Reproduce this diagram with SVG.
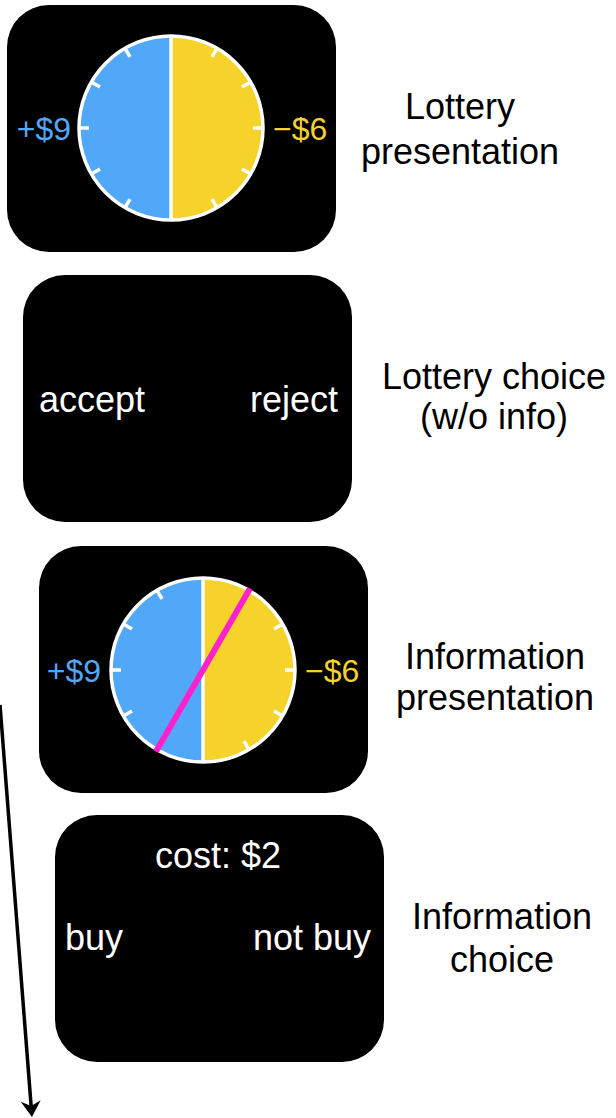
<svg xmlns="http://www.w3.org/2000/svg" width="616" height="1118" viewBox="0 0 616 1118">
<style>
.panel{fill:#000}
.t{font-family:"Liberation Sans",Arial,sans-serif;font-size:36px}
.w{fill:#fff}
.k{fill:#000}
.v{font-family:"Liberation Sans",Arial,sans-serif;font-size:32px}
.blue{fill:#52A8F8}
.yel{fill:#F5D32B}
.tick{stroke:#fff;stroke-width:3.5;stroke-linecap:butt}
.conn{stroke:#000;stroke-width:3.5;fill:none}
</style>
<defs>
<g id="dial">
<path d="M0,-92 A92,92 0 0 0 0,92 Z" fill="#52A8F8"/>
<path d="M0,-92 A92,92 0 0 1 0,92 Z" fill="#F5D32B"/>
<circle r="92" fill="none" stroke="#fff" stroke-width="3.5"/>
<line x1="0" y1="-92" x2="0" y2="92" stroke="#fff" stroke-width="3.5"/>
<g class="tick">
<line x1="46" y1="-79.67" x2="41" y2="-71.01"/>
<line x1="79.67" y1="-46" x2="71.01" y2="-41"/>
<line x1="92" y1="0" x2="82" y2="0"/>
<line x1="79.67" y1="46" x2="71.01" y2="41"/>
<line x1="46" y1="79.67" x2="41" y2="71.01"/>
<line x1="-46" y1="-79.67" x2="-41" y2="-71.01"/>
<line x1="-79.67" y1="-46" x2="-71.01" y2="-41"/>
<line x1="-92" y1="0" x2="-82" y2="0"/>
<line x1="-79.67" y1="46" x2="-71.01" y2="41"/>
<line x1="-46" y1="79.67" x2="-41" y2="71.01"/>
</g>
</g>
<marker id="arrow" markerUnits="userSpaceOnUse" markerWidth="30" markerHeight="30" viewBox="-10 -15 25 30" refX="0" refY="0" orient="auto">
<path d="M10,0 L-6,-10 L-1,0 L-6,10 Z" fill="#000"/>
</marker>
</defs>

<g id="connectors">
<line class="conn" x1="0" y1="705" x2="31.2" y2="1107" marker-end="url(#arrow)"/>
</g>

<g id="lottery-presentation">
<rect class="panel" x="7" y="5" width="329" height="247" rx="42"/>
<use href="#dial" transform="translate(171,128)"/>
<text class="v blue" x="71" y="140" text-anchor="end">+$9</text>
<text class="v yel" x="273" y="140">−$6</text>
</g>

<g id="lottery-choice">
<rect class="panel" x="23" y="275" width="329" height="247" rx="42"/>
<text class="t w" x="39" y="412">accept</text>
<text class="t w" x="338" y="412" text-anchor="end">reject</text>
</g>

<g id="information-presentation">
<rect class="panel" x="39" y="546" width="329" height="247" rx="42"/>
<use href="#dial" transform="translate(203,670)"/>
<line x1="250" y1="588.6" x2="156" y2="751.4" stroke="#FF22CC" stroke-width="6"/>
<text class="v blue" x="101" y="682" text-anchor="end">+$9</text>
<text class="v yel" x="305" y="682">−$6</text>
</g>

<g id="information-choice">
<rect class="panel" x="55" y="815" width="329" height="247" rx="42"/>
<text class="t w" x="218" y="868" text-anchor="middle">cost: $2</text>
<text class="t w" x="65" y="950">buy</text>
<text class="t w" x="371" y="950" text-anchor="end">not buy</text>
</g>

<g id="labels">
<text class="t k" text-anchor="middle"><tspan x="460" y="119">Lottery</tspan><tspan x="460" y="164">presentation</tspan></text>
<text class="t k" text-anchor="middle"><tspan x="494" y="389">Lottery choice</tspan><tspan x="494" y="429">(w/o info)</tspan></text>
<text class="t k" text-anchor="middle"><tspan x="495" y="669">Information</tspan><tspan x="495" y="710">presentation</tspan></text>
<text class="t k" text-anchor="middle"><tspan x="502" y="929">Information</tspan><tspan x="502" y="972">choice</tspan></text>
</g>
</svg>
